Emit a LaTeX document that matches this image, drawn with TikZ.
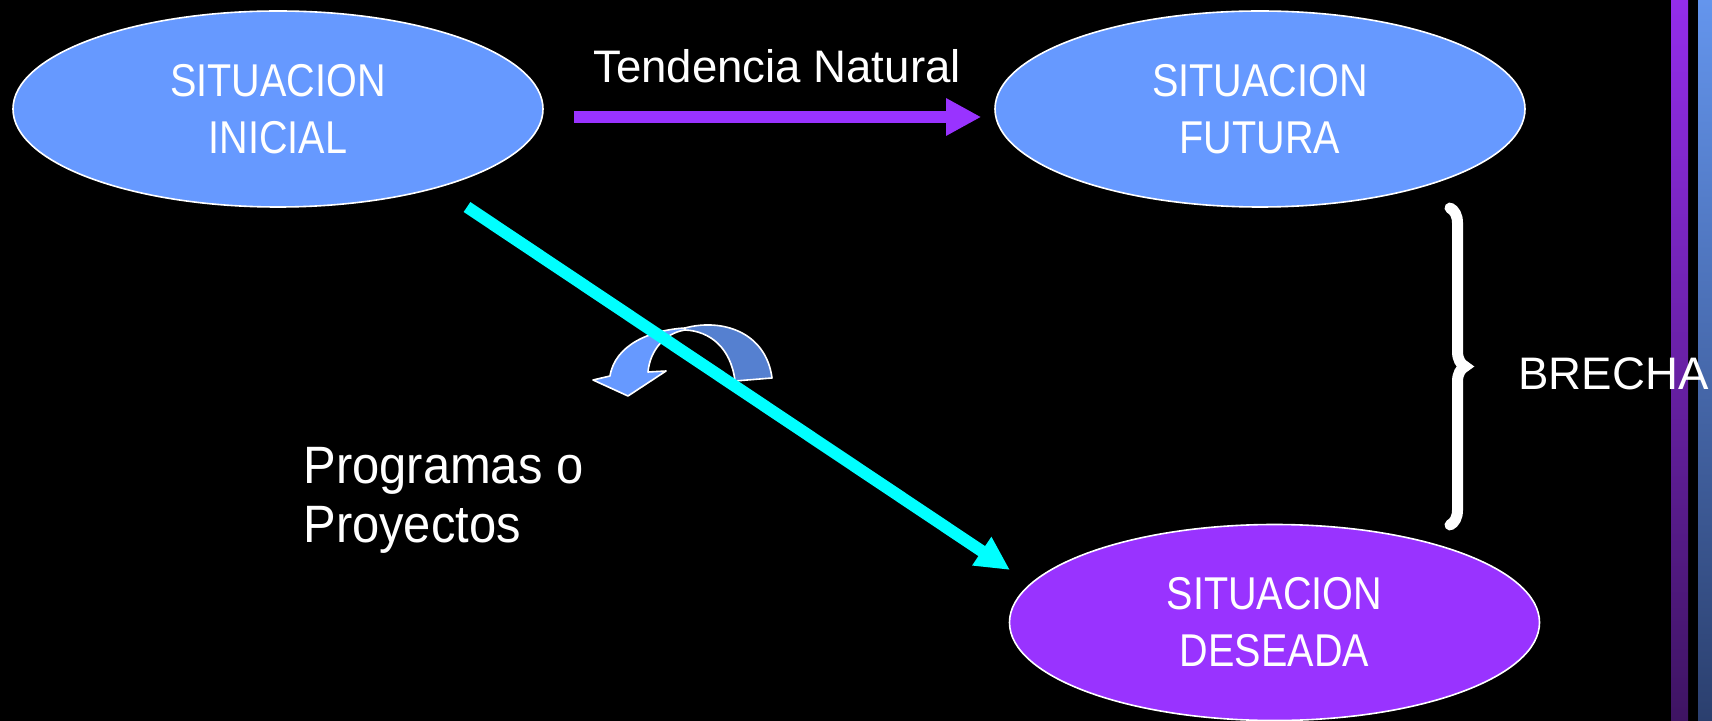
\documentclass[tikz,border=0pt]{standalone}
\usepackage{fontspec}
\setmainfont{Liberation Sans}
\newfontfamily\capsfont{Liberation Sans}[FakeStretch=0.86]
\newfontfamily\progfont{Liberation Sans}[FakeStretch=0.93]
\usetikzlibrary{shapes.geometric}
\usetikzlibrary{arrows.meta}
\usetikzlibrary{decorations.pathreplacing}
\definecolor{sit_blue}{RGB}{102, 153, 255}
\definecolor{sit_purple}{RGB}{153, 51, 255}
\definecolor{prog_cyan}{RGB}{0, 255, 255}
\definecolor{turn_dark}{RGB}{85, 128, 208}
\definecolor{bar_purple_top}{RGB}{148, 45, 235}
\definecolor{bar_purple_bot}{RGB}{62, 20, 98}
\definecolor{bar_blue_top}{RGB}{100, 149, 237}
\definecolor{bar_blue_bot}{RGB}{43, 63, 110}
\tikzset{
  situ/.style={ellipse, draw=white, line width=0.8pt, minimum width=265pt, minimum height=98pt,
    inner sep=0pt, align=center, text=white, font=\capsfont\fontsize{23}{28.5}\selectfont},
  lbl/.style={inner sep=0pt, text=white, font=\fontsize{22.8}{27}\selectfont},
  prog/.style={inner sep=0pt, align=left, text=white, font=\progfont\fontsize{26.3}{29.5}\selectfont},
  turn/.style={draw=white, line width=0.8pt, line join=round}
}

\begin{document}
\begin{tikzpicture}[x=0.5pt, y=-0.5pt]
\useasboundingbox (0,0) rectangle (1712,721);
\fill[black] (0,0) rectangle (1712,721);
% side bars
\shade[top color=bar_purple_top, bottom color=bar_purple_bot] (1671,0) rectangle (1688,721);
\shade[top color=bar_blue_top, bottom color=bar_blue_bot] (1698,0) rectangle (1712,721);

\node[situ, fill=sit_blue] (ini) at (278,109) {SITUACION\\INICIAL};
\node[situ, fill=sit_blue] (fut) at (1260,109) {SITUACION\\FUTURA};
\node[situ, fill=sit_purple] (des) at (1274.5,622.5) {SITUACION\\DESEADA};

\draw[sit_purple, line width=6pt, -{Triangle[width=17.5pt, length=17.5pt]}]
  ([shift={(30,8)}]ini.east) -- ([shift={(-13,8)}]fut.west);
\node[lbl, anchor=base] (tend) at (777,83) {Tendencia Natural};

% curved arrow
\fill[turn, fill=turn_dark] (685,328) .. controls (722,318) and (766,332) .. (772,378)
  -- (735,381) .. controls (731,348) and (710,331) .. (685,330) -- cycle;
\fill[turn, fill=sit_blue] (685,328) .. controls (650,330) and (615,345) .. (610,376)
  -- (593,380) -- (628,396) -- (666,371) -- (648,372)
  .. controls (650,350) and (665,333) .. (685,330) -- cycle;

\coordinate (pA) at (467,207);
\coordinate (pB) at (1010,570);
\draw[prog_cyan, line width=6pt, -{Triangle[width=16pt, length=17pt]}] (pA) -- (pB);

\node[prog, anchor=base west] (prog) at (303,542) {Programas o\\Proyectos};

% brecha
\coordinate (brT) at (1450,208);
\coordinate (brB) at (1450,525);
\draw[white, line width=5.5pt, line cap=round, decorate, decoration={brace, amplitude=7.5pt}] (brT) -- (brB);
\node[lbl, anchor=base west] (brecha) at (1518,390) {BRECHA};
\end{tikzpicture}
\end{document}
